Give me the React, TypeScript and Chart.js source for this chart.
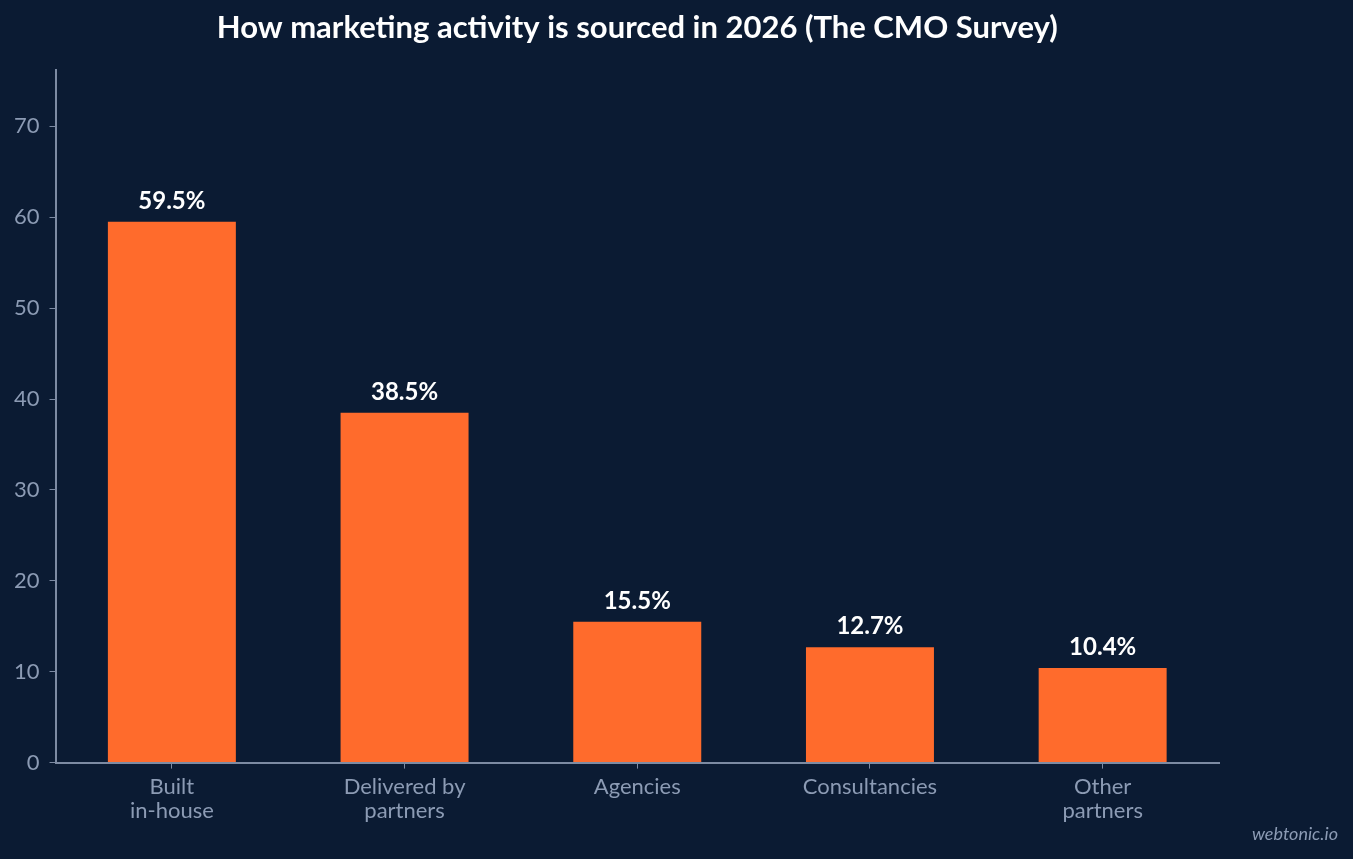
import React, { useEffect, useRef } from "react";
import { Chart, registerables } from "chart.js";

Chart.register(...registerables);

const categories: (string | string[])[] = [
  ["Built", "in-house"],
  ["Delivered by", "partners"],
  "Agencies",
  "Consultancies",
  ["Other", "partners"],
];
const shares = [59.5, 38.5, 15.5, 12.7, 10.4];
const titleText = "How marketing activity is sourced in 2026 (The CMO Survey)";
const watermark = "webtonic.io";

const BG = "#0b1b33";
const BAR = "#ff6b2c";
const AXIS = "#7d8ba3";
const TICK = "#8c9bb4";
const FONT = "Lato, 'Noto Sans', sans-serif";

export default function App() {
  const ref = useRef<HTMLCanvasElement | null>(null);
  useEffect(() => {
    document.body.style.margin = "0";
    document.body.style.background = BG;
    const canvas = ref.current;
    if (!canvas) return;
    const overlay = {
      id: "overlay",
      afterDatasetsDraw(chart: any) {
        const ctx = chart.ctx;
        const meta = chart.getDatasetMeta(0);
        ctx.save();
        ctx.fillStyle = "#ffffff";
        ctx.font = `bold 24px ${FONT}`;
        ctx.textAlign = "center";
        ctx.textBaseline = "alphabetic";
        meta.data.forEach((el: any, i: number) => {
          ctx.fillText(shares[i].toFixed(1) + "%", el.x, el.y - 13);
        });
        ctx.restore();
      },
      afterDraw(chart: any) {
        const ctx = chart.ctx;
        const a = chart.chartArea;
        ctx.save();
        ctx.fillStyle = "#ffffff";
        ctx.font = `bold 31px ${FONT}`;
        ctx.textAlign = "center";
        ctx.textBaseline = "middle";
        ctx.fillText(titleText, (a.left + a.right) / 2, 28);
        ctx.fillStyle = TICK;
        ctx.font = `italic 18px ${FONT}`;
        ctx.textAlign = "right";
        ctx.textBaseline = "middle";
        ctx.fillText(watermark, chart.width - 15, 834);
        ctx.restore();
      },
    };
    const chart = new Chart(canvas, {
      type: "bar",
      data: {
        labels: categories,
        datasets: [
          {
            data: shares,
            backgroundColor: BAR,
            borderWidth: 0,
            categoryPercentage: 1,
            barPercentage: 0.55,
          },
        ],
      },
      options: {
        responsive: false,
        animation: false,
        devicePixelRatio: 1,
        layout: { padding: { top: 70, right: 134, left: 4, bottom: 30 } },
        plugins: {
          legend: { display: false },
          title: { display: false },
          tooltip: { enabled: false },
        },
        scales: {
          x: {
            grid: {
              display: true,
              offset: false,
              drawOnChartArea: false,
              drawTicks: true,
              tickLength: 6,
              color: AXIS,
            },
            border: { display: true, color: AXIS, width: 2 },
            ticks: {
              color: TICK,
              font: { family: FONT, size: 22, lineHeight: 1.1 },
              padding: 6,
            },
          },
          y: {
            min: 0,
            max: 76.2,
            afterBuildTicks: (axis: any) => {
              axis.ticks = axis.ticks.filter((t: any) => t.value % 10 === 0);
            },
            grid: {
              display: true,
              drawOnChartArea: false,
              drawTicks: true,
              tickLength: 6,
              color: AXIS,
            },
            border: { display: true, color: AXIS, width: 2 },
            ticks: {
              stepSize: 10,
              color: TICK,
              font: { family: FONT, size: 22 },
              padding: 10,
            },
          },
        },
      },
      plugins: [overlay],
    });
    return () => chart.destroy();
  }, []);
  return (
    <div style={{ width: 1353, height: 859, background: BG }}>
      <canvas ref={ref} width={1353} height={859} style={{ display: "block" }} />
    </div>
  );
}
